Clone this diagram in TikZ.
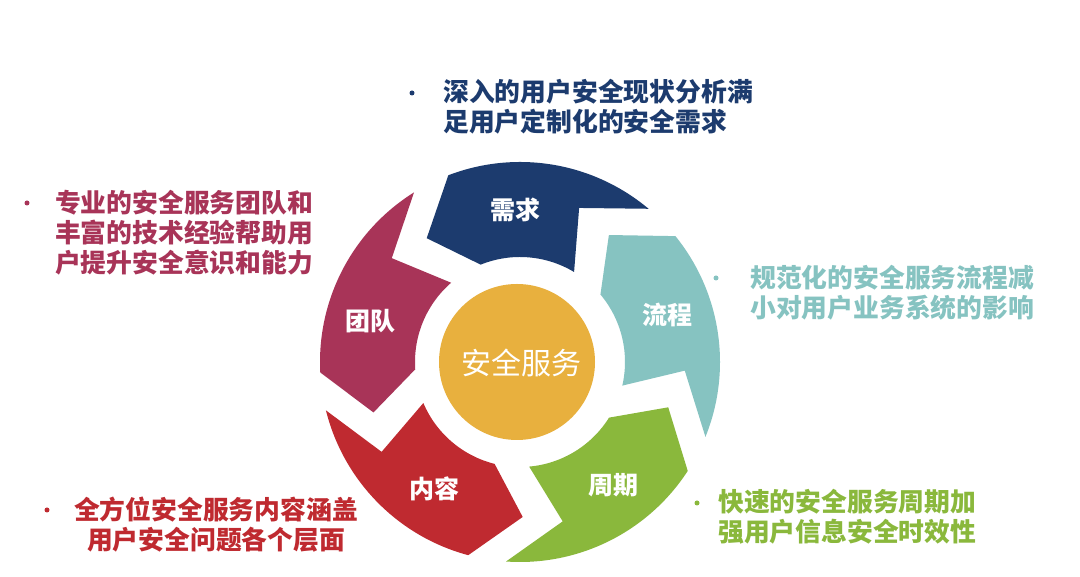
\documentclass[tikz,border=0pt]{standalone}
\usepackage{fontspec}
\newfontfamily\cjk{Noto Sans CJK SC}
\definecolor{cNavy}{HTML}{1C3B6E}
\definecolor{cTeal}{HTML}{86C3C1}
\definecolor{cGreen}{HTML}{8AB83C}
\definecolor{cRed}{HTML}{BF2A30}
\definecolor{cPink}{HTML}{A83458}
\definecolor{cYellow}{HTML}{E8B03E}
\begin{document}
\begin{tikzpicture}[x=1pt,y=1pt,
  sidetext/.style={font=\cjk\bfseries\fontsize{25.8}{30}\selectfont, inner sep=0pt, align=left, anchor=west},
  seglabel/.style={font=\cjk\bfseries\fontsize{25}{30}\selectfont, text=white, inner sep=0pt},
  bulletdot/.style={circle, inner sep=0pt, minimum size=5pt}]
\useasboundingbox (0,0) rectangle (1080,577);
\fill[white] (0,0) rectangle (1080,577);
\begin{scope}[shift={(520,215)}]
\foreach \a/\c in {90/cNavy, 18/cTeal, -54/cGreen, -126/cRed, 162/cPink} {
  \fill[\c] ({\a+21}:200) arc[start angle=\a+21, end angle=\a-40, radius=200pt]
     -- ({\a-21}:165) -- ({\a-31}:105)
     arc[start angle=\a-31, end angle=\a+22, radius=105pt]
     -- ({\a+37}:155) -- cycle;
}
\end{scope}
\fill[cYellow] (517,215) circle[radius=78pt];
\node[font=\cjk\fontsize{30}{34}\selectfont, text=white, inner sep=0pt] (core) at (521,214) {安全服务};
\node[seglabel] (xq) at (515,367) {需求};
\node[seglabel] (lc) at (667,262) {流程};
\node[seglabel] (zq) at (613,92) {周期};
\node[seglabel] (nr) at (434,88) {内容};
\node[seglabel] (td) at (370,256) {团队};
% side texts
\node[bulletdot, fill=cNavy] (b1) at (412,484) {};
\node[sidetext, text=cNavy] (t1) at (443,470.5) {深入的用户安全现状分析满\\足用户定制化的安全需求};
\node[bulletdot, fill=cPink] (b2) at (27,374) {};
\node[sidetext, text=cPink] (t2) at (55,344) {专业的安全服务团队和\\丰富的技术经验帮助用\\户提升安全意识和能力};
\node[bulletdot, fill=cTeal] (b3) at (716,299) {};
\node[sidetext, text=cTeal] (t3) at (750,284) {规范化的安全服务流程减\\小对用户业务系统的影响};
\node[bulletdot, fill=cRed] (b4) at (47,67) {};
\node[sidetext, text=cRed, align=center, anchor=center] (t4) at (216,52.5) {全方位安全服务内容涵盖\\用户安全问题各个层面};
\node[bulletdot, fill=cGreen] (b5) at (697,74) {};
\node[sidetext, text=cGreen] (t5) at (718,60) {快速的安全服务周期加\\强用户信息安全时效性};
\end{tikzpicture}
\end{document}
